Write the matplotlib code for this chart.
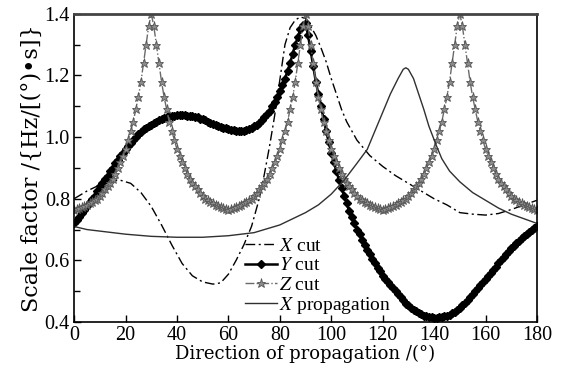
import matplotlib
matplotlib.use("Agg")
import matplotlib.pyplot as plt

# Direction of propagation (deg), 1 deg steps for the marked curves
angle = list(range(0, 181))

# Z cut scale factor
z_cut = [0.765, 0.768, 0.770, 0.772, 0.775, 0.780, 0.785, 0.790, 0.795, 0.800,
         0.810, 0.820, 0.830, 0.840, 0.850, 0.865, 0.880, 0.900, 0.920, 0.940,
         0.960, 0.990, 1.020, 1.050, 1.090, 1.130, 1.180, 1.240, 1.300, 1.360,
         1.400, 1.360, 1.300, 1.240, 1.180, 1.130, 1.090, 1.050, 1.020, 0.990,
         0.960, 0.940, 0.920, 0.900, 0.880, 0.865, 0.850, 0.840, 0.830, 0.820,
         0.810, 0.800, 0.795, 0.790, 0.785, 0.780, 0.775, 0.772, 0.770, 0.768,
         0.765, 0.768, 0.770, 0.772, 0.775, 0.780, 0.785, 0.790, 0.795, 0.800,
         0.810, 0.820, 0.830, 0.840, 0.850, 0.865, 0.880, 0.900, 0.920, 0.940,
         0.960, 0.990, 1.020, 1.050, 1.090, 1.130, 1.180, 1.240, 1.300, 1.360,
         1.400, 1.360, 1.300, 1.240, 1.180, 1.130, 1.090, 1.050, 1.020, 0.990,
         0.960, 0.940, 0.920, 0.900, 0.880, 0.865, 0.850, 0.840, 0.830, 0.820,
         0.810, 0.800, 0.795, 0.790, 0.785, 0.780, 0.775, 0.772, 0.770, 0.768,
         0.765, 0.768, 0.770, 0.772, 0.775, 0.780, 0.785, 0.790, 0.795, 0.800,
         0.810, 0.820, 0.830, 0.840, 0.850, 0.865, 0.880, 0.900, 0.920, 0.940,
         0.960, 0.990, 1.020, 1.050, 1.090, 1.130, 1.180, 1.240, 1.300, 1.360,
         1.400, 1.360, 1.300, 1.240, 1.180, 1.130, 1.090, 1.050, 1.020, 0.990,
         0.960, 0.940, 0.920, 0.900, 0.880, 0.865, 0.850, 0.840, 0.830, 0.820,
         0.810, 0.800, 0.795, 0.790, 0.785, 0.780, 0.775, 0.772, 0.770, 0.768,
         0.765]

# Y cut scale factor
y_cut = [0.720, 0.730, 0.740, 0.755, 0.765, 0.775, 0.790, 0.800, 0.810, 0.825,
         0.840, 0.850, 0.865, 0.875, 0.890, 0.900, 0.915, 0.925, 0.940, 0.950,
         0.960, 0.970, 0.980, 0.990, 1.000, 1.010, 1.015, 1.025, 1.030, 1.035,
         1.040, 1.045, 1.050, 1.055, 1.060, 1.062, 1.065, 1.068, 1.070, 1.070,
         1.072, 1.072, 1.072, 1.072, 1.070, 1.070, 1.068, 1.066, 1.064, 1.060,
         1.058, 1.055, 1.050, 1.047, 1.043, 1.040, 1.036, 1.033, 1.030, 1.028,
         1.025, 1.023, 1.022, 1.020, 1.020, 1.020, 1.021, 1.023, 1.026, 1.030,
         1.035, 1.040, 1.047, 1.055, 1.065, 1.075, 1.085, 1.100, 1.115, 1.130,
         1.150, 1.170, 1.190, 1.215, 1.240, 1.270, 1.300, 1.325, 1.350, 1.365,
         1.370, 1.330, 1.280, 1.230, 1.180, 1.140, 1.100, 1.060, 1.020, 0.985,
         0.950, 0.920, 0.890, 0.860, 0.835, 0.810, 0.785, 0.760, 0.740, 0.720,
         0.700, 0.685, 0.665, 0.650, 0.635, 0.620, 0.605, 0.590, 0.575, 0.565,
         0.550, 0.540, 0.530, 0.520, 0.510, 0.500, 0.490, 0.480, 0.470, 0.460,
         0.455, 0.447, 0.440, 0.435, 0.430, 0.425, 0.420, 0.418, 0.416, 0.415,
         0.414, 0.414, 0.415, 0.416, 0.418, 0.420, 0.424, 0.428, 0.433, 0.440,
         0.447, 0.455, 0.463, 0.472, 0.481, 0.490, 0.500, 0.510, 0.520, 0.530,
         0.540, 0.550, 0.560, 0.570, 0.580, 0.590, 0.600, 0.610, 0.620, 0.630,
         0.640, 0.648, 0.656, 0.664, 0.672, 0.680, 0.686, 0.692, 0.698, 0.704,
         0.710]

# X cut (no markers)
x_cut_angle = [0, 5, 10, 15, 18, 22, 26, 30, 34, 38, 42, 46, 50, 54, 57, 60,
               63, 66, 69, 72, 74, 76, 78, 80, 82, 84, 86, 88, 90, 92, 94, 96,
               98, 100, 102, 104, 106, 110, 115, 120, 125, 130, 135, 140, 145,
               150, 155, 160, 165, 170, 175, 180]
x_cut = [0.800, 0.825, 0.845, 0.858, 0.860, 0.850, 0.820, 0.775, 0.715, 0.650,
         0.590, 0.550, 0.530, 0.523, 0.527, 0.555, 0.600, 0.650, 0.710, 0.800,
         0.880, 0.970, 1.070, 1.185, 1.300, 1.355, 1.380, 1.390, 1.385, 1.360,
         1.330, 1.290, 1.245, 1.190, 1.140, 1.090, 1.050, 0.990, 0.940, 0.905,
         0.875, 0.850, 0.825, 0.800, 0.780, 0.755, 0.750, 0.747, 0.752, 0.765,
         0.780, 0.795]

# X propagation (no markers)
x_prop_angle = [0, 5, 10, 20, 30, 40, 50, 60, 70, 80, 90, 95, 100, 105, 110,
                114, 117, 120, 123, 126, 128, 129, 130, 132, 134, 136, 138,
                141, 143, 146, 150, 155, 160, 165, 170, 175, 180]
x_prop = [0.710, 0.700, 0.695, 0.685, 0.678, 0.675, 0.675, 0.680, 0.690, 0.715,
          0.755, 0.780, 0.815, 0.860, 0.915, 0.960, 1.020, 1.080, 1.140, 1.190,
          1.220, 1.225, 1.220, 1.190, 1.140, 1.090, 1.035, 0.970, 0.930, 0.890,
          0.855, 0.820, 0.795, 0.770, 0.750, 0.735, 0.720]

plt.rcParams['font.family'] = ['Liberation Serif', 'DejaVu Serif']
plt.rcParams['mathtext.fontset'] = 'stix'

fig = plt.figure(figsize=(5.7, 3.74), dpi=100)
ax = fig.add_axes([0.130, 0.139, 0.812, 0.824])

ax.plot(x_cut_angle, x_cut, color='black', lw=1.0, ls=(0, (7, 2.5, 1.5, 2.5)),
        label='$X$ cut')
ax.plot(angle, y_cut, color='black', lw=1.8, marker='D', markersize=4,
        label='$Y$ cut')
ax.plot(angle, z_cut, color='#6a6a6a', lw=1.0, ls='-.', marker='*',
        markersize=6.5, markerfacecolor='#8c8c8c', markeredgecolor='#555555',
        markeredgewidth=0.6, label='$Z$ cut')
ax.plot(x_prop_angle, x_prop, color='#303030', lw=1.0,
        label='$X$ propagation')

ax.set_xlim(0, 180)
ax.set_ylim(0.4, 1.4)
ax.set_xticks(range(0, 181, 20))
ax.set_yticks([0.4, 0.6, 0.8, 1.0, 1.2, 1.4])
ax.set_yticks([0.5, 0.7, 0.9, 1.1, 1.3], minor=True)
ax.tick_params(direction='in', labelsize=14.5, length=5, width=1.0, pad=3)
ax.tick_params(which='minor', direction='in', length=4, width=1.0)
for s in ax.spines.values():
    s.set_linewidth(1.2)
ax.spines['top'].set_color('#444444')
ax.spines['top'].set_linewidth(2.0)

ax.set_xlabel('Direction of propagation /(°)', fontsize=13,
              family='DejaVu Serif', labelpad=0)
ax.set_ylabel('Scale factor /{Hz/[(°)•s]}', fontsize=16,
              family='DejaVu Serif', labelpad=1)

ax.legend(loc='lower left', bbox_to_anchor=(0.34, -0.025), frameon=False,
          fontsize=14, handlelength=1.65, handletextpad=0.1,
          labelspacing=0.08, borderpad=0.2, markerscale=1.0, numpoints=1)

plt.savefig('out.png', dpi=100)
